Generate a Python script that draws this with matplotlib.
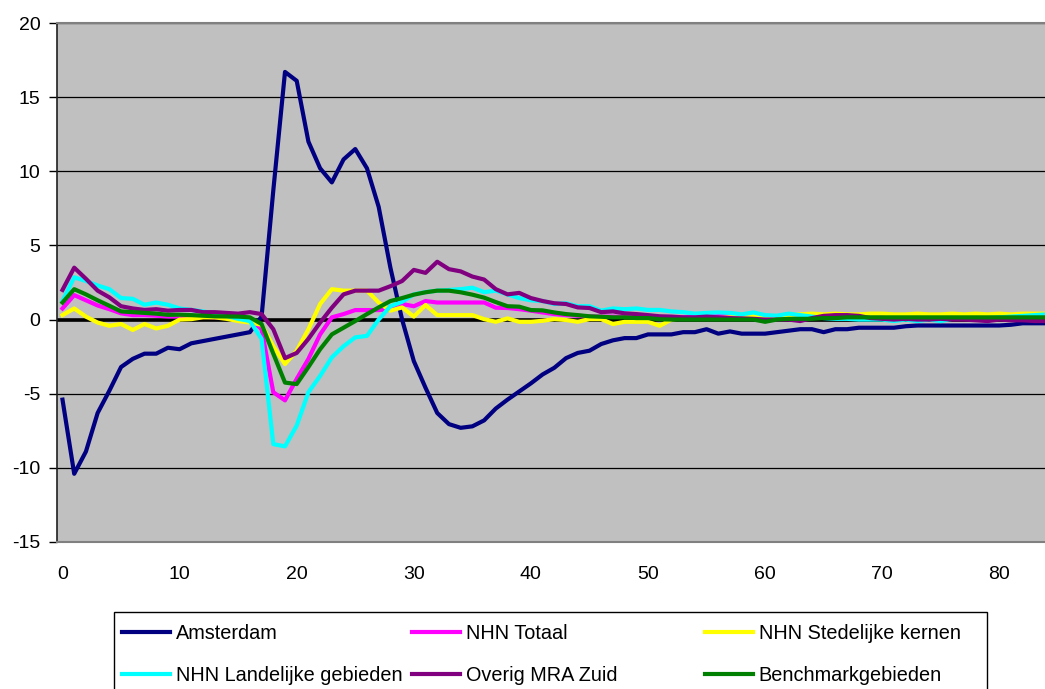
import matplotlib
matplotlib.use("Agg")
import matplotlib.pyplot as plt
from matplotlib.patches import Rectangle

plt.rcParams["font.family"] = ["Liberation Sans", "DejaVu Sans"]
plt.rcParams["axes.unicode_minus"] = False

# period index 0..84
periods = list(range(85))

amsterdam = [
    -5.4, -10.4, -8.9, -6.3, -4.8, -3.2, -2.65, -2.3, -2.3, -1.9,
    -2.0, -1.6, -1.45, -1.3, -1.15, -1.0, -0.85, 0.2, 8.7, 16.7,
    16.1, 12.0, 10.2, 9.25, 10.8, 11.5, 10.2, 7.6, 3.5, 0.0,
    -2.8, -4.6, -6.3, -7.05, -7.3, -7.2, -6.8, -6.0, -5.4, -4.85,
    -4.3, -3.7, -3.25, -2.6, -2.25, -2.1, -1.65, -1.4, -1.25, -1.25,
    -1.0, -1.0, -1.0, -0.85, -0.85, -0.65, -0.95, -0.8, -0.95, -0.95,
    -0.95, -0.85, -0.75, -0.65, -0.65, -0.85, -0.65, -0.65, -0.55, -0.55,
    -0.55, -0.55, -0.45, -0.4, -0.4, -0.4, -0.4, -0.4, -0.4, -0.4,
    -0.4, -0.35, -0.25, -0.25, -0.25,
]
nhn_totaal = [
    0.75, 1.65, 1.3, 0.95, 0.7, 0.42, 0.3, 0.3, 0.26, 0.21,
    0.21, 0.19, 0.19, 0.15, 0.12, 0.1, 0.05, -0.65, -4.9, -5.45,
    -4.0, -2.65, -1.0, 0.15, 0.37, 0.64, 0.64, 0.64, 0.7, 1.05,
    0.9, 1.25, 1.15, 1.15, 1.15, 1.15, 1.15, 0.8, 0.78, 0.7,
    0.6, 0.48, 0.37, 0.3, 0.26, 0.21, 0.2, 0.2, 0.18, 0.18,
    0.15, 0.15, 0.12, 0.15, 0.2, 0.25, 0.3, 0.2, 0.15, 0.1,
    0.15, 0.1, 0.15, 0.1, 0.15, 0.2, 0.15, 0.1, 0.15, 0.1,
    0.15, 0.1, 0.15, 0.1, 0.1, 0.15, 0.1, 0.15, 0.1, 0.1,
    0.15, 0.1, 0.1, 0.15, 0.1,
]
nhn_stedelijk = [
    0.3, 0.75, 0.2, -0.2, -0.42, -0.3, -0.7, -0.3, -0.6, -0.42,
    0.0, 0.03, 0.15, 0.15, 0.05, -0.1, -0.2, -0.35, -1.8, -3.0,
    -2.1, -0.65, 1.05, 2.05, 1.95, 1.95, 1.95, 1.15, 0.6, 0.82,
    0.2, 0.98, 0.3, 0.3, 0.3, 0.3, 0.03, -0.15, 0.08, -0.15,
    -0.15, -0.08, 0.03, -0.03, -0.15, 0.03, 0.03, -0.3, -0.15, -0.15,
    -0.15, -0.42, 0.0, 0.1, 0.1, 0.15, 0.1, 0.15, 0.2, 0.25,
    0.2, 0.2, 0.3, 0.35, 0.4, 0.35, 0.4, 0.35, 0.35, 0.4,
    0.4, 0.35, 0.35, 0.4, 0.35, 0.35, 0.4, 0.35, 0.4, 0.35,
    0.4, 0.35, 0.4, 0.4, 0.4,
]
nhn_landelijk = [
    1.25, 2.85, 2.6, 2.3, 2.05, 1.45, 1.4, 1.0, 1.15, 1.0,
    0.75, 0.65, 0.55, 0.4, 0.25, 0.05, -0.1, -1.3, -8.4, -8.55,
    -7.15, -4.9, -3.8, -2.55, -1.8, -1.2, -1.1, 0.0, 0.9, 1.2,
    1.7, 1.85, 1.95, 2.0, 2.05, 2.15, 1.85, 1.95, 1.7, 1.45,
    1.3, 1.25, 1.05, 1.1, 0.9, 0.9, 0.6, 0.75, 0.7, 0.75,
    0.65, 0.65, 0.55, 0.5, 0.4, 0.45, 0.48, 0.45, 0.35, 0.48,
    0.3, 0.26, 0.4, 0.3, 0.2, 0.1, 0.05, 0.05, 0.0, 0.0,
    0.0, -0.1, 0.0, -0.1, 0.0, -0.1, 0.05, 0.05, 0.1, 0.1,
    0.15, 0.2, 0.25, 0.3, 0.35,
]
overig_mra_zuid = [
    2.0, 3.5, 2.75, 1.95, 1.5, 0.9, 0.75, 0.65, 0.7, 0.6,
    0.65, 0.65, 0.5, 0.5, 0.45, 0.4, 0.5, 0.37, -0.65, -2.6,
    -2.25, -1.3, -0.2, 0.8, 1.7, 1.95, 1.95, 1.95, 2.25, 2.6,
    3.35, 3.15, 3.9, 3.4, 3.25, 2.9, 2.7, 2.05, 1.7, 1.8,
    1.45, 1.25, 1.1, 1.05, 0.82, 0.78, 0.5, 0.55, 0.42, 0.37,
    0.3, 0.22, 0.2, 0.15, 0.15, 0.2, 0.15, 0.1, 0.08, 0.05,
    0.0, 0.0, 0.0, -0.1, 0.1, 0.25, 0.3, 0.3, 0.25, 0.1,
    0.05, 0.0, 0.05, 0.0, 0.0, 0.05, 0.0, 0.0, -0.05, -0.1,
    0.0, -0.05, -0.05, -0.1, -0.1,
]
benchmark = [
    1.15, 2.05, 1.7, 1.3, 0.93, 0.55, 0.5, 0.45, 0.4, 0.32,
    0.33, 0.3, 0.26, 0.22, 0.21, 0.2, 0.15, -0.3, -2.3, -4.25,
    -4.35, -3.2, -2.0, -1.0, -0.55, -0.1, 0.37, 0.82, 1.25, 1.45,
    1.68, 1.84, 1.95, 1.95, 1.84, 1.68, 1.48, 1.18, 0.9, 0.87,
    0.64, 0.62, 0.48, 0.37, 0.3, 0.22, 0.19, 0.15, 0.15, 0.1,
    0.1, 0.02, 0.0, 0.0, 0.0, 0.0, 0.0, 0.0, 0.0, 0.0,
    -0.15, 0.0, 0.05, 0.05, 0.05, 0.1, 0.1, 0.15, 0.15, 0.15,
    0.15, 0.15, 0.15, 0.15, 0.15, 0.15, 0.15, 0.15, 0.15, 0.15,
    0.15, 0.15, 0.15, 0.15, 0.15,
]

series = [
    ("Amsterdam", amsterdam, "#000080"),
    ("NHN Totaal", nhn_totaal, "#FF00FF"),
    ("NHN Stedelijke kernen", nhn_stedelijk, "#FFFF00"),
    ("NHN Landelijke gebieden", nhn_landelijk, "#00FFFF"),
    ("Overig MRA Zuid", overig_mra_zuid, "#800080"),
    ("Benchmarkgebieden", benchmark, "#008000"),
]

W, H = 1045, 689
fig = plt.figure(figsize=(W / 100, H / 100), dpi=100)
ax = fig.add_axes([57 / W, 1 - 542 / H, 1 - 57 / W, (542 - 23) / H])
ax.set_facecolor("#C0C0C0")

ax.set_ylim(-15, 20)
ax.set_xlim(-0.47, 83.9)
ax.set_yticks(range(-15, 21, 5))
ax.set_xticks(range(0, 81, 10))
ax.yaxis.grid(True, color="black", lw=0.9)
ax.set_axisbelow(True)
ax.axhline(0, color="black", lw=2.6, zorder=1.5)

handles = {}
for name, vals, col in series:
    (ln,) = ax.plot(periods, vals, color=col, lw=3, label=name, zorder=2)
    handles[name] = ln

ax.tick_params(axis="y", labelsize=14, length=6, width=1, pad=6, direction="out")
ax.tick_params(axis="x", labelsize=14, length=0, pad=17)

ax.spines["right"].set_visible(False)
ax.spines["top"].set_color("#808080")
ax.spines["top"].set_linewidth(1.5)
ax.spines["bottom"].set_color("#808080")
ax.spines["bottom"].set_linewidth(1.5)
ax.spines["left"].set_color("#202020")
ax.spines["left"].set_linewidth(1.2)

# legend box
fig.add_artist(Rectangle((114 / W, -0.02), (987 - 114) / W, 0.02 + 1 - 612 / H,
                         transform=fig.transFigure, fill=False,
                         ec="black", lw=1))

columns = [
    (118, ["Amsterdam", "NHN Landelijke gebieden"]),
    (408, ["NHN Totaal", "Overig MRA Zuid"]),
    (701, ["NHN Stedelijke kernen", "Benchmarkgebieden"]),
]
for xpos, names in columns:
    fig.legend([handles[n] for n in names], names, loc="upper left",
               bbox_to_anchor=(xpos / W, 1 - 620 / H), frameon=False,
               fontsize=14.3, handlelength=2.4, handletextpad=0.3,
               labelspacing=1.15, borderpad=0.2, borderaxespad=0)

fig.savefig("out.png", dpi=100)
